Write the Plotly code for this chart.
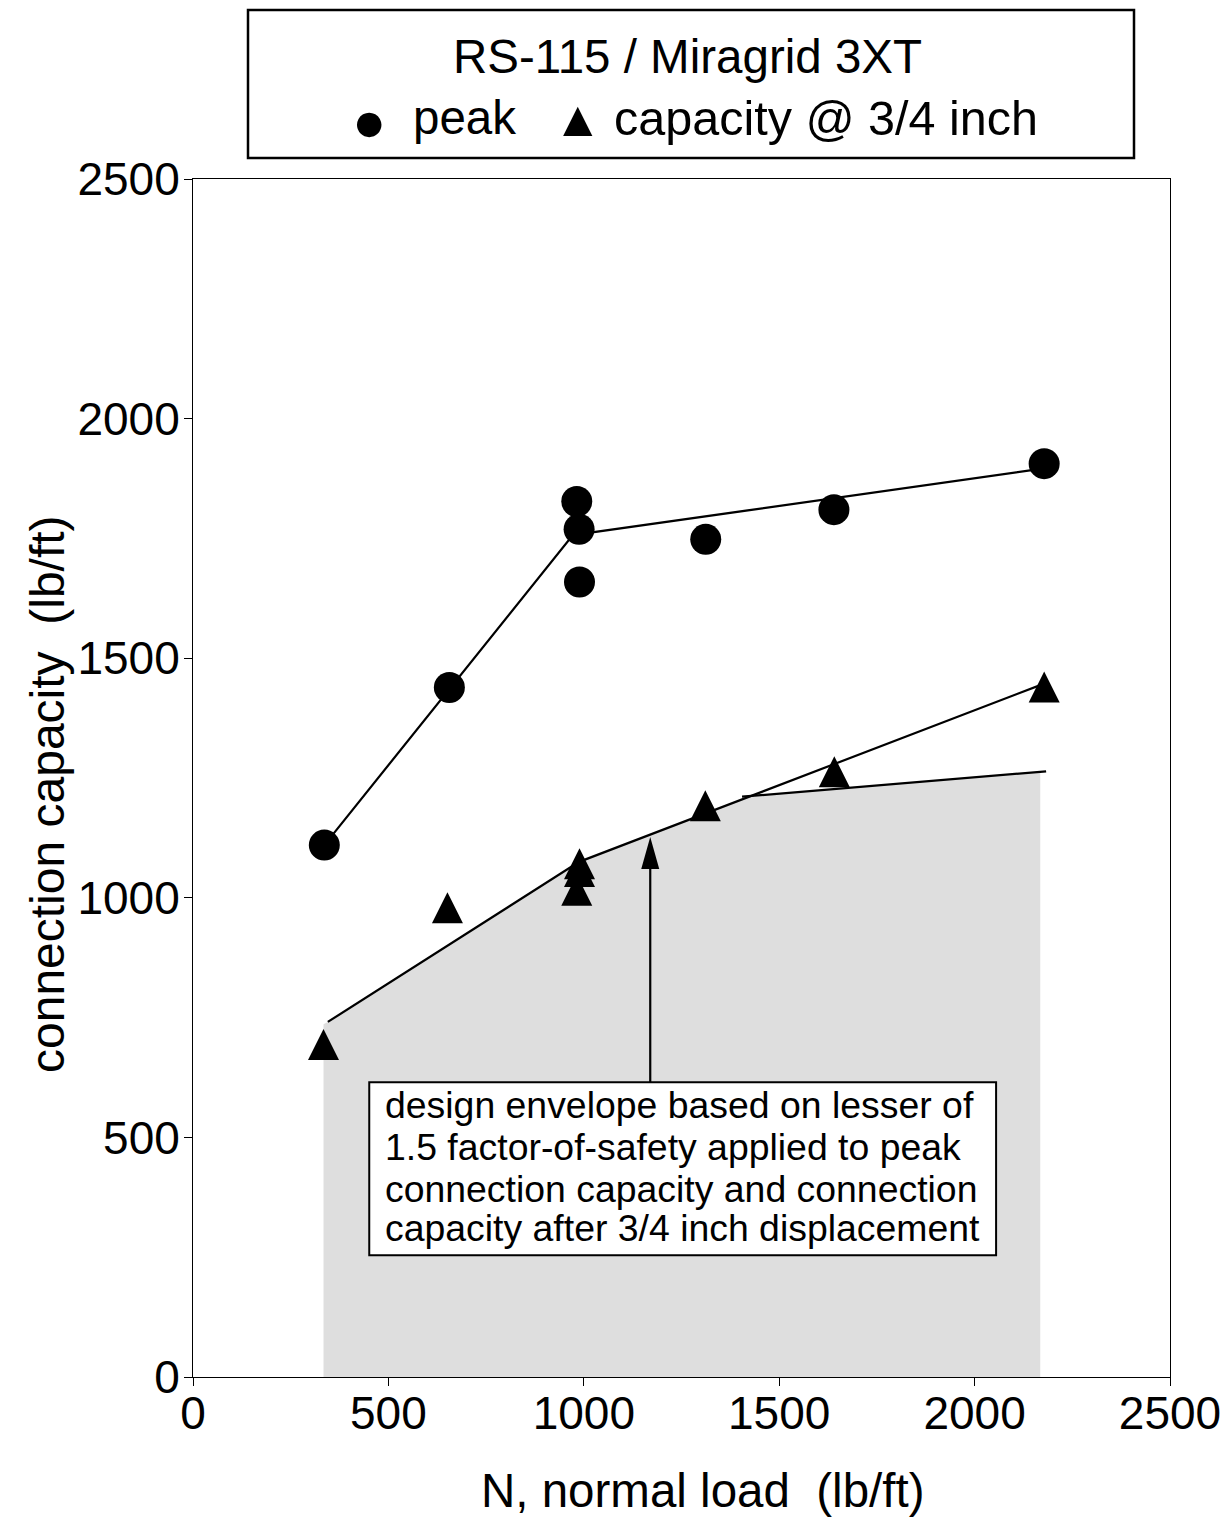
import plotly.graph_objects as go

# ---------------- data ----------------
peak_N = [336, 656, 982, 988, 989, 1312, 1640, 2178]
peak_cap = [1110, 1439, 1827, 1769, 1659, 1748, 1810, 1906]

disp_N = [334, 651, 989, 989, 982, 1311, 1641, 2178]
disp_cap = [694, 979, 1071, 1055, 1016, 1192, 1263, 1440]

peak_fit_N = [336, 972, 2178]
peak_fit_cap = [1110, 1757, 1896]

disp_fit_N = [345, 988, 2178]
disp_fit_cap = [741, 1075, 1447]

env_line_N = [1405, 2183]
env_line_cap = [1211, 1264]

env_fill_N = [334, 334, 345, 988, 1425, 2168, 2168]
env_fill_cap = [0, 736, 741, 1075, 1212, 1263, 0]

arrow_N = 1170
arrow_tip_cap = 1127
arrow_tail_cap = 615

note_lines = [
    "design envelope based on lesser of",
    "1.5 factor-of-safety applied to peak",
    "connection capacity and connection",
    "capacity after 3/4 inch displacement",
]
note_box_N = [451, 2055]
note_box_cap = [254, 615]
note_line_cap = [567, 479, 393, 310]
note_text_N = 485

x_ticks = [0, 500, 1000, 1500, 2000, 2500]
y_ticks = [0, 500, 1000, 1500, 2000, 2500]

title_text = "RS-115 / Miragrid 3XT"
x_title = "N, normal load  (lb/ft)"
y_title = "connection capacity  (lb/ft)"
FONT = "Liberation Sans, Arial, Helvetica, sans-serif"

# ---------------- layout geometry ----------------
OFF = 8  # page body margin
W, H = 1220, 1512
ML, MR, MT, MB = 185, 58, 171, 143
PW, PH = W - ML - MR, H - MT - MB


def px_x(px):
    """screen px -> paper x"""
    return (px - OFF - ML) / PW


def px_y(py):
    """screen px -> paper y"""
    return (H - MB - (py - OFF)) / PH


fig = go.Figure()

fig.add_trace(go.Scatter(
    x=env_fill_N, y=env_fill_cap, mode="lines", fill="toself",
    fillcolor="#DEDEDE", line=dict(width=0), hoverinfo="skip", showlegend=False))

fig.add_trace(go.Scatter(
    x=peak_fit_N, y=peak_fit_cap, mode="lines",
    line=dict(color="black", width=2.2), showlegend=False))
fig.add_trace(go.Scatter(
    x=disp_fit_N, y=disp_fit_cap, mode="lines",
    line=dict(color="black", width=2.2), showlegend=False))
fig.add_trace(go.Scatter(
    x=env_line_N, y=env_line_cap, mode="lines",
    line=dict(color="black", width=2.2), showlegend=False))

fig.add_trace(go.Scatter(
    x=peak_N, y=peak_cap, mode="markers",
    marker=dict(symbol="circle", size=31, color="black", line=dict(width=0)),
    showlegend=False))
fig.add_trace(go.Scatter(
    x=disp_N, y=disp_cap, mode="markers",
    marker=dict(symbol="arrow-down", angle=180, standoff=15.5, size=31,
                color="black", line=dict(width=0)),
    showlegend=False))

shapes = []
shapes.append(dict(type="line", xref="x", yref="y", x0=arrow_N, x1=arrow_N,
                   y0=arrow_tail_cap, y1=arrow_tip_cap - 40,
                   line=dict(color="black", width=2.2)))
shapes.append(dict(type="path", xref="x", yref="y", xsizemode="pixel", ysizemode="pixel",
                   xanchor=arrow_N, yanchor=arrow_tip_cap,
                   path="M0,0 L-9,-32 L9,-32 Z", fillcolor="black", line=dict(width=0)))
shapes.append(dict(type="rect", xref="x", yref="y", x0=note_box_N[0], x1=note_box_N[1],
                   y0=note_box_cap[0], y1=note_box_cap[1], fillcolor="white",
                   line=dict(color="black", width=2)))
shapes.append(dict(type="rect", xref="paper", yref="paper",
                   x0=px_x(248), x1=px_x(1134), y0=px_y(158), y1=px_y(10),
                   fillcolor="white", line=dict(color="black", width=2.5)))

annotations = []
for txt, yc in zip(note_lines, note_line_cap):
    annotations.append(dict(x=note_text_N, y=yc, xref="x", yref="y", text=txt,
                            showarrow=False, xanchor="left", yanchor="middle",
                            font=dict(family=FONT, size=37.4, color="black")))

annotations.append(dict(x=px_x(687), y=px_y(57), xref="paper", yref="paper",
                        text=title_text, showarrow=False, xanchor="center", yanchor="middle",
                        font=dict(family=FONT, size=47.5, color="black")))
annotations.append(dict(x=px_x(369), y=px_y(121), xref="paper", yref="paper",
                        text="●", showarrow=False, xanchor="center", yanchor="middle",
                        font=dict(family=FONT, size=57, color="black")))
annotations.append(dict(x=px_x(411), y=px_y(118), xref="paper", yref="paper",
                        text="peak", showarrow=False, xanchor="left", yanchor="middle",
                        font=dict(family=FONT, size=47.5, color="black")))
annotations.append(dict(x=px_x(578), y=px_y(119), xref="paper", yref="paper",
                        text="▲", showarrow=False, xanchor="center", yanchor="middle",
                        font=dict(family=FONT, size=50, color="black")))
annotations.append(dict(x=px_x(612), y=px_y(118), xref="paper", yref="paper",
                        text="capacity @ 3/4 inch", showarrow=False, xanchor="left",
                        yanchor="middle", font=dict(family=FONT, size=48.5, color="black")))
# axis titles
annotations.append(dict(x=px_x(702), y=px_y(1490), xref="paper", yref="paper",
                        text=x_title, showarrow=False, xanchor="center", yanchor="middle",
                        font=dict(family=FONT, size=47.5, color="black")))
annotations.append(dict(x=px_x(48), y=px_y(794), xref="paper", yref="paper",
                        text=y_title, textangle=-90, showarrow=False,
                        xanchor="center", yanchor="middle",
                        font=dict(family=FONT, size=48, color="black")))

axis_common = dict(
    range=[0, 2500], showgrid=False, zeroline=False, showline=True, mirror=True,
    linecolor="black", linewidth=1, ticks="outside", ticklen=8, tickwidth=1,
    tickcolor="black", tickfont=dict(family=FONT, size=46, color="black"),
)

fig.update_layout(
    width=W, height=H,
    margin=dict(l=ML, r=MR, t=MT, b=MB, autoexpand=False),
    paper_bgcolor="white", plot_bgcolor="white",
    showlegend=False,
    xaxis=dict(**axis_common, tickvals=x_ticks, ticktext=[str(v) for v in x_ticks],
               ticklabelstandoff=-12),
    yaxis=dict(**axis_common, tickvals=y_ticks, ticktext=[str(v) for v in y_ticks],
               ticklabelstandoff=-5),
    shapes=shapes,
    annotations=annotations,
)

fig.write_html("out.html")
